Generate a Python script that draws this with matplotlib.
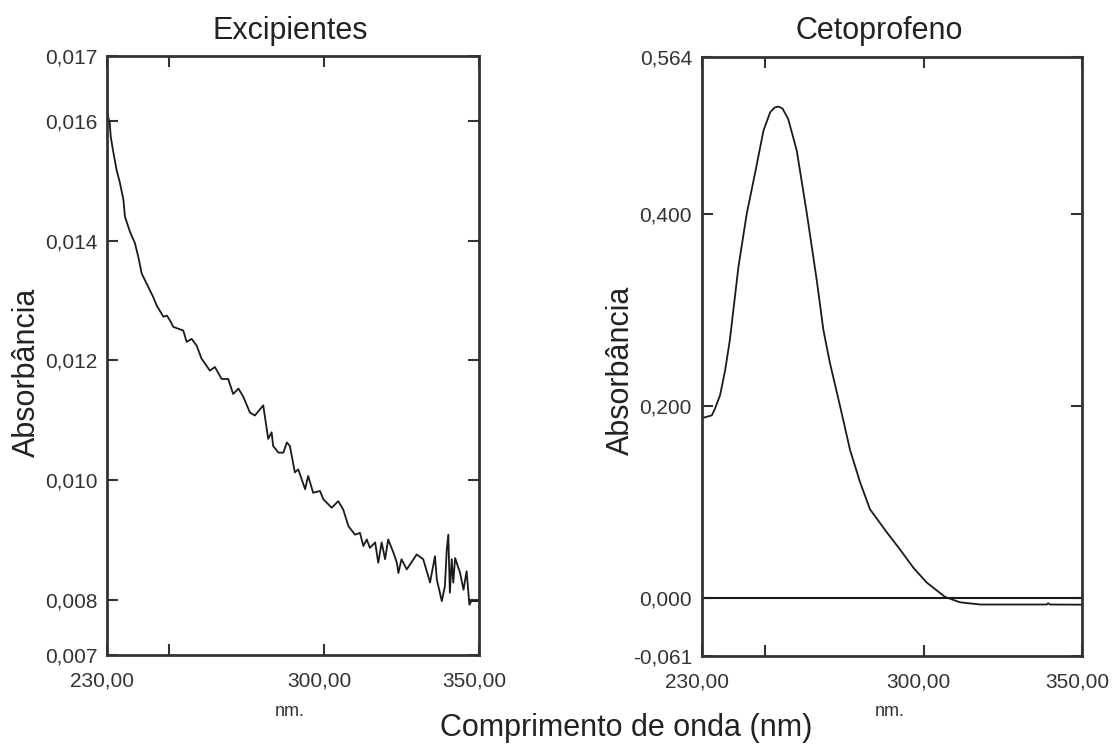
import matplotlib.pyplot as plt
from matplotlib.transforms import ScaledTranslation

plt.rcParams['font.family'] = ['Liberation Sans', 'DejaVu Sans']

# Excipientes (left panel): wavelength (nm) and absorbance
exc_nm = [230.1, 230.9, 231.2, 232.0, 233.1, 234.2, 235.3, 235.8, 237.4, 239.0,
          240.1, 241.2, 243.3, 244.9, 246.0, 248.2, 249.3, 250.3, 251.4, 254.6,
          255.7, 257.3, 258.9, 260.5, 263.2, 264.8, 267.0, 269.1, 270.7, 272.4,
          274.0, 276.1, 277.7, 280.4, 282.0, 283.1, 283.6, 285.3, 286.9, 288.0,
          289.0, 290.6, 291.7, 293.9, 294.9, 296.5, 298.7, 299.8, 302.5, 304.6,
          306.2, 307.9, 310.0, 311.6, 312.7, 313.8, 314.8, 316.5, 317.5, 318.6,
          319.7, 320.7, 322.4, 323.5, 324.0, 325.0, 326.7, 329.9, 332.0, 333.6,
          334.2, 335.8, 336.4, 338.0, 339.0, 339.6, 340.1, 340.6, 341.2, 341.7,
          342.3, 343.9, 345.0, 346.0, 346.9, 347.5, 350.0]
exc_abs = [0.01613, 0.01596, 0.01574, 0.01549, 0.01518, 0.01496, 0.01468, 0.01440, 0.01415, 0.01396,
           0.01373, 0.01345, 0.01323, 0.01306, 0.01292, 0.01273, 0.01275, 0.01267, 0.01256, 0.01250,
           0.01231, 0.01236, 0.01225, 0.01203, 0.01183, 0.01189, 0.01169, 0.01169, 0.01144, 0.01153,
           0.01139, 0.01113, 0.01108, 0.01125, 0.01069, 0.01080, 0.01057, 0.01046, 0.01046, 0.01063,
           0.01057, 0.01013, 0.01018, 0.00985, 0.01007, 0.00979, 0.00982, 0.00968, 0.00954, 0.00965,
           0.00951, 0.00923, 0.00909, 0.00912, 0.00890, 0.00901, 0.00887, 0.00896, 0.00862, 0.00896,
           0.00868, 0.00901, 0.00879, 0.00862, 0.00845, 0.00868, 0.00851, 0.00876, 0.00868, 0.00840,
           0.00829, 0.00873, 0.00834, 0.00798, 0.00823, 0.00884, 0.00909, 0.00812, 0.00868, 0.00829,
           0.00870, 0.00845, 0.00817, 0.00848, 0.00792, 0.00798, 0.00798]

# Cetoprofeno (right panel)
ceto_nm = [230.0, 233.2, 234.2, 235.8, 237.4, 238.9, 241.6, 244.2, 246.8, 249.5,
           251.6, 253.0, 254.2, 255.5, 257.3, 260.0, 263.2, 266.3, 268.4, 270.5,
           273.7, 276.8, 280.0, 283.1, 288.4, 292.6, 296.8, 301.0, 306.8, 311.5,
           317.9, 338.9, 339.3, 340.0, 350.0]
ceto_abs = [0.187, 0.190, 0.197, 0.211, 0.237, 0.269, 0.345, 0.400, 0.442, 0.487,
            0.506, 0.511, 0.512, 0.510, 0.499, 0.466, 0.400, 0.331, 0.279, 0.244,
            0.199, 0.154, 0.120, 0.092, 0.068, 0.050, 0.031, 0.0156, 0.0006, -0.005,
            -0.0073, -0.0073, -0.006, -0.0073, -0.0075]

x_ticks = [230, 250, 300, 350]
x_labels = ['230,00', '', '300,00', '350,00']
exc_yticks = [0.00708, 0.008, 0.010, 0.012, 0.014, 0.016, 0.01709]
exc_ylabels = ['0,007', '0,008', '0,010', '0,012', '0,014', '0,016', '0,017']
ceto_yticks = [-0.061, 0.0, 0.2, 0.4, 0.564]
ceto_ylabels = ['-0,061', '0,000', '0,200', '0,400', '0,564']

W, H = 1113, 745
fig = plt.figure(figsize=(W / 100, H / 100), dpi=100)
ax1 = fig.add_axes([107 / W, 1 - 655 / H, 372 / W, 599.3 / H])
ax2 = fig.add_axes([701.7 / W, 1 - 656 / H, 380.3 / W, 599.3 / H])

line_c = '#1a1a1a'
ax1.plot(exc_nm, exc_abs, color=line_c, lw=1.3)
ax2.plot(ceto_nm, ceto_abs, color=line_c, lw=1.3)
ax2.axhline(0, color=line_c, lw=1.5)

ax1.set_ylim(exc_yticks[0], exc_yticks[-1])
ax2.set_ylim(ceto_yticks[0], ceto_yticks[-1])


def style(ax, yt, yl):
    ax.set_xlim(230, 350)
    ax.set_xticks(x_ticks)
    ax.set_xticklabels(x_labels)
    ax.set_yticks(yt)
    ax.set_yticklabels(yl)
    for s in ax.spines.values():
        s.set_linewidth(2)
        s.set_color('#333333')
    ax.tick_params(direction='in', length=8, width=1.5, color='#333333',
                   top=True, right=True, labelsize=15, labelcolor='#333333')
    ax.tick_params(axis='x', pad=12)
    ax.tick_params(axis='y', pad=7)
    # the x labels sit a little left of their ticks in the original
    off = ScaledTranslation(-5 / 100, 0, fig.dpi_scale_trans)
    for lab in ax.get_xticklabels():
        lab.set_transform(lab.get_transform() + off)


style(ax1, exc_yticks, exc_ylabels)
style(ax2, ceto_yticks, ceto_ylabels)

txt_c = '#222222'
fig.text(290 / W, 1 - 31 / H, 'Excipientes', fontsize=22, ha='center', va='center', color=txt_c)
fig.text(879 / W, 1 - 31 / H, 'Cetoprofeno', fontsize=22, ha='center', va='center', color=txt_c)
fig.text(27 / W, 1 - 372 / H, 'Absorbância', fontsize=22, rotation=90, ha='center', va='center', color=txt_c)
fig.text(621 / W, 1 - 370 / H, 'Absorbância', fontsize=22, rotation=90, ha='center', va='center', color=txt_c)
fig.text(290 / W, 1 - 711 / H, 'nm.', fontsize=13, ha='center', va='center', color='#333333')
fig.text(890 / W, 1 - 711 / H, 'nm.', fontsize=13, ha='center', va='center', color='#333333')
fig.text(626 / W, 1 - 728 / H, 'Comprimento de onda (nm)', fontsize=22, ha='center', va='center', color=txt_c)

fig.savefig('out.png', dpi=100)
